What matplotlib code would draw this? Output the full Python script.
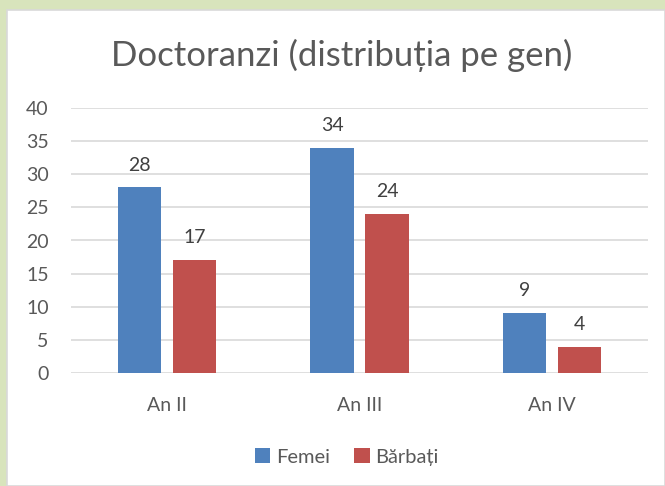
import numpy as np
import matplotlib
matplotlib.use('Agg')
import matplotlib.pyplot as plt
from matplotlib.patches import Rectangle

categories = ['An II', 'An III', 'An IV']
femei = [28, 34, 9]
barbati = [17, 24, 4]
series_names = ['Femei', 'Bărbați']
y_ticks = [0, 5, 10, 15, 20, 25, 30, 35, 40]

BLUE = '#4f81bd'
RED = '#c0504d'
TEXT = '#595959'
GRID = '#d9d9d9'

plt.rcParams['font.family'] = ['Lato', 'DejaVu Sans']

fig = plt.figure(figsize=(6.65, 4.86), dpi=100)
fig.patch.set_facecolor('#d8e4bc')

# white chart area with thin grey border
W, H = 665, 486
fig.patches.append(Rectangle((7 / W, 0), 1 - 7 / W, 1 - 10 / H, transform=fig.transFigure,
                             facecolor='white', edgecolor=GRID, linewidth=1.2, zorder=-5))

ax = fig.add_axes([71 / W, 1 - 373 / H, (648 - 71) / W, (373 - 108) / H])
ax.set_facecolor('none')
ax.set_zorder(2)

x = np.arange(len(categories))
bw = 0.224
off = 0.143
b1 = ax.bar(x - off, femei, bw, color=BLUE, label=series_names[0], zorder=3)
b2 = ax.bar(x + off, barbati, bw, color=RED, label=series_names[1], zorder=3)

for bars in (b1, b2):
    for rect in bars:
        h = rect.get_height()
        ax.annotate(f'{h:g}', (rect.get_x() + rect.get_width() / 2, h),
                    xytext=(0, 10), textcoords='offset points',
                    ha='center', va='bottom', fontsize=14, color='#404040')

ax.set_xlim(-0.5, 2.5)
ax.set_ylim(0, 40)
ax.set_yticks(y_ticks)
ax.set_xticks(x)
ax.set_xticklabels(categories)
ax.tick_params(axis='both', length=0, labelsize=14, labelcolor=TEXT)
ax.tick_params(axis='y', pad=16)
ax.tick_params(axis='x', pad=17)
ax.grid(axis='y', color=GRID, linewidth=1.2, zorder=0)
for s in ax.spines.values():
    s.set_visible(False)

fig.text(342 / W, 1 - 55 / H, 'Doctoranzi (distribuția pe gen)', ha='center', va='center',
         fontsize=25, color=TEXT)

fig.legend(handles=[b1, b2], labels=series_names, loc='center', bbox_to_anchor=(347 / W, 1 - 457 / H),
           ncol=2, frameon=False, fontsize=14.5, labelcolor=TEXT, handlelength=0.75, handleheight=0.75,
           handletextpad=0.3, columnspacing=1.2)

fig.savefig('out.png', dpi=100, facecolor=fig.get_facecolor())
